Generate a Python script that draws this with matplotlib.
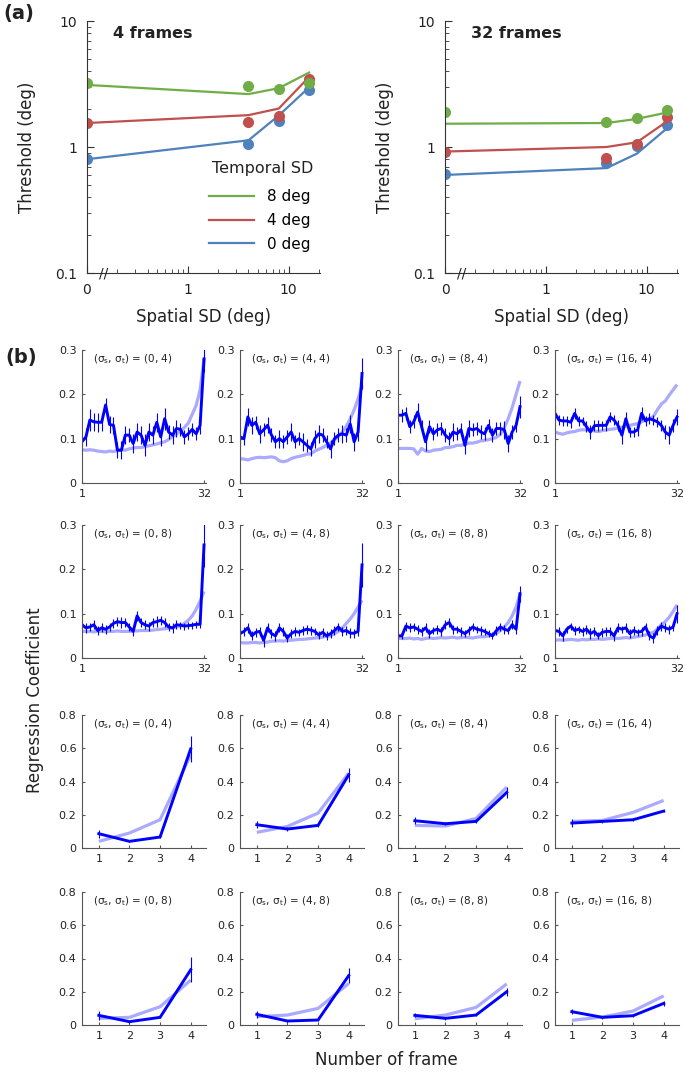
import numpy as np
import matplotlib
matplotlib.use('Agg')
import matplotlib.pyplot as plt
from matplotlib.transforms import blended_transform_factory
from matplotlib.ticker import NullFormatter

# ---------------- (a) thresholds ----------------
spatial_sd = np.array([0, 4, 8, 16])
temporal_sd = [8, 4, 0]
colors = {8: '#70ad47', 4: '#c0504d', 0: '#4f81bd'}

# 4 frames: measured points and model lines
pts4 = {8: [3.21, 3.06, 2.88, 3.20], 4: [1.55, 1.57, 1.75, 3.45], 0: [0.80, 1.06, 1.60, 2.81]}
fit4 = {8: [3.11, 2.63, 2.93, 3.90], 4: [1.55, 1.79, 2.02, 3.60], 0: [0.80, 1.13, 1.78, 2.98]}
# 32 frames
pts32 = {8: [1.88, 1.57, 1.69, 1.98], 4: [0.92, 0.82, 1.06, 1.73], 0: [0.615, 0.75, 1.01, 1.50]}
fit32 = {8: [1.53, 1.55, 1.67, 1.88], 4: [0.92, 1.00, 1.09, 1.60], 0: [0.60, 0.68, 0.885, 1.41]}

# ---------------- (b) regression coefficients ----------------
frames32 = np.arange(1, 33)
frames4 = np.array([1, 2, 3, 4])

d32_0_4 = [0.093,0.104,0.142,0.138,0.137,0.137,0.176,0.132,0.130,0.074,0.074,0.108,0.108,0.089,0.115,0.108,
           0.085,0.115,0.108,0.137,0.104,0.145,0.115,0.108,0.123,0.121,0.104,0.111,0.121,0.111,0.130,0.280]
m32_0_4 = [0.075,0.074,0.075,0.074,0.072,0.071,0.070,0.072,0.071,0.073,0.075,0.074,0.077,0.079,0.080,0.080,
           0.082,0.084,0.086,0.088,0.091,0.093,0.098,0.105,0.110,0.118,0.125,0.135,0.155,0.175,0.210,0.280]
e32_0_4 = [0.012,0.020,0.025,0.020,0.022,0.020,0.015,0.020,0.020,0.018,0.020,0.020,0.015,0.022,0.020,0.020,
           0.025,0.020,0.020,0.022,0.020,0.025,0.015,0.020,0.020,0.015,0.015,0.015,0.015,0.015,0.020,0.030]

d32_4_4 = [0.104,0.100,0.149,0.130,0.137,0.111,0.120,0.130,0.108,0.093,0.100,0.093,0.104,0.115,0.093,0.100,
           0.093,0.085,0.077,0.100,0.111,0.108,0.093,0.077,0.100,0.108,0.111,0.108,0.133,0.093,0.115,0.247]
m32_4_4 = [0.055,0.054,0.052,0.055,0.057,0.058,0.057,0.058,0.059,0.057,0.050,0.048,0.050,0.055,0.058,0.060,
           0.062,0.065,0.066,0.072,0.076,0.080,0.085,0.090,0.097,0.105,0.115,0.128,0.145,0.165,0.190,0.220]
e32_4_4 = [0.020,0.015,0.020,0.020,0.015,0.020,0.015,0.018,0.015,0.015,0.020,0.015,0.015,0.020,0.015,0.015,
           0.020,0.015,0.015,0.020,0.020,0.015,0.015,0.020,0.015,0.015,0.020,0.015,0.020,0.020,0.020,0.035]

d32_8_4 = [0.153,0.153,0.157,0.127,0.138,0.160,0.127,0.093,0.127,0.111,0.120,0.123,0.108,0.100,0.115,0.111,
           0.120,0.085,0.123,0.120,0.123,0.115,0.111,0.130,0.108,0.123,0.123,0.120,0.089,0.115,0.130,0.172]
m32_8_4 = [0.078,0.078,0.078,0.078,0.077,0.065,0.078,0.072,0.071,0.074,0.075,0.076,0.080,0.080,0.082,0.085,
           0.085,0.087,0.090,0.090,0.092,0.095,0.096,0.098,0.100,0.103,0.110,0.125,0.145,0.170,0.200,0.230]
e32_8_4 = [0.020,0.015,0.015,0.015,0.015,0.020,0.015,0.020,0.015,0.015,0.015,0.015,0.015,0.015,0.020,0.015,
           0.015,0.020,0.020,0.015,0.015,0.015,0.015,0.015,0.015,0.015,0.015,0.020,0.020,0.015,0.015,0.025]

d32_16_4 = [0.157,0.142,0.140,0.140,0.137,0.157,0.140,0.140,0.127,0.115,0.129,0.130,0.130,0.130,0.149,0.142,
            0.130,0.108,0.145,0.115,0.115,0.120,0.157,0.140,0.145,0.142,0.138,0.130,0.115,0.108,0.130,0.149]
m32_16_4 = [0.115,0.112,0.110,0.113,0.115,0.116,0.119,0.120,0.120,0.121,0.117,0.116,0.118,0.120,0.121,0.122,
            0.124,0.126,0.128,0.130,0.132,0.134,0.138,0.142,0.145,0.150,0.165,0.178,0.185,0.198,0.210,0.222]
e32_16_4 = [0.018,0.012,0.012,0.012,0.012,0.012,0.012,0.010,0.012,0.015,0.012,0.012,0.010,0.012,0.012,0.012,
            0.012,0.020,0.015,0.012,0.012,0.015,0.015,0.012,0.012,0.012,0.012,0.012,0.015,0.020,0.015,0.018]

d32_0_8 = [0.075,0.068,0.070,0.075,0.062,0.068,0.065,0.070,0.078,0.082,0.080,0.080,0.070,0.060,0.095,0.080,
           0.075,0.072,0.080,0.082,0.085,0.080,0.070,0.068,0.075,0.074,0.072,0.073,0.074,0.076,0.076,0.255]
m32_0_8 = [0.060,0.060,0.060,0.059,0.060,0.060,0.059,0.060,0.060,0.061,0.060,0.060,0.060,0.061,0.061,0.062,
           0.062,0.062,0.063,0.064,0.065,0.066,0.067,0.068,0.070,0.073,0.078,0.085,0.095,0.110,0.128,0.150]
e32_0_8 = [0.010,0.012,0.010,0.010,0.010,0.010,0.010,0.008,0.010,0.010,0.012,0.010,0.010,0.010,0.012,0.010,
           0.010,0.010,0.010,0.012,0.010,0.010,0.010,0.012,0.010,0.008,0.008,0.008,0.008,0.008,0.008,0.050]

d32_4_8 = [0.055,0.060,0.068,0.050,0.058,0.060,0.040,0.068,0.055,0.050,0.068,0.060,0.045,0.055,0.060,0.058,
           0.062,0.065,0.063,0.060,0.052,0.058,0.050,0.055,0.062,0.070,0.060,0.062,0.056,0.056,0.060,0.210]
m32_4_8 = [0.035,0.034,0.034,0.035,0.035,0.034,0.035,0.036,0.038,0.038,0.039,0.038,0.040,0.040,0.041,0.042,
           0.042,0.043,0.044,0.045,0.046,0.047,0.049,0.050,0.055,0.060,0.068,0.078,0.088,0.100,0.115,0.130]
e32_4_8 = [0.012,0.010,0.012,0.010,0.010,0.010,0.015,0.010,0.010,0.012,0.010,0.010,0.010,0.010,0.010,0.008,
           0.010,0.010,0.010,0.008,0.010,0.010,0.010,0.010,0.010,0.010,0.010,0.010,0.012,0.010,0.010,0.050]

d32_8_8 = [0.050,0.050,0.072,0.068,0.070,0.065,0.060,0.068,0.055,0.062,0.065,0.060,0.075,0.080,0.065,0.065,
           0.060,0.055,0.062,0.070,0.065,0.063,0.060,0.055,0.050,0.062,0.070,0.065,0.062,0.075,0.065,0.145]
m32_8_8 = [0.045,0.044,0.044,0.045,0.043,0.044,0.042,0.044,0.045,0.044,0.045,0.046,0.045,0.046,0.047,0.045,
           0.046,0.047,0.046,0.045,0.047,0.048,0.048,0.050,0.052,0.055,0.062,0.070,0.080,0.095,0.115,0.145]
e32_8_8 = [0.010,0.008,0.010,0.010,0.008,0.010,0.010,0.010,0.010,0.008,0.010,0.010,0.010,0.010,0.010,0.008,
           0.010,0.008,0.010,0.010,0.008,0.010,0.008,0.008,0.008,0.010,0.010,0.010,0.008,0.010,0.010,0.018]

d32_16_8 = [0.062,0.060,0.050,0.065,0.072,0.062,0.065,0.060,0.065,0.055,0.060,0.050,0.058,0.060,0.060,0.050,
            0.068,0.065,0.068,0.055,0.062,0.058,0.060,0.070,0.050,0.045,0.062,0.072,0.068,0.065,0.070,0.100]
m32_16_8 = [0.040,0.041,0.040,0.041,0.042,0.041,0.040,0.042,0.041,0.042,0.042,0.043,0.042,0.043,0.044,0.045,
            0.044,0.045,0.046,0.045,0.047,0.048,0.050,0.052,0.055,0.058,0.065,0.075,0.082,0.092,0.105,0.120]
e32_16_8 = [0.008,0.010,0.012,0.008,0.008,0.010,0.008,0.010,0.010,0.012,0.010,0.008,0.010,0.010,0.010,0.012,
            0.010,0.008,0.010,0.010,0.010,0.008,0.010,0.010,0.010,0.012,0.010,0.010,0.010,0.010,0.010,0.020]

d4_0_4 = [0.086, 0.040, 0.066, 0.596];  m4_0_4 = [0.040, 0.090, 0.170, 0.560];  e4_0_4 = [0.025, 0.006, 0.006, 0.080]
d4_4_4 = [0.140, 0.114, 0.136, 0.440];  m4_4_4 = [0.094, 0.130, 0.210, 0.450];  e4_4_4 = [0.020, 0.012, 0.008, 0.040]
d4_8_4 = [0.164, 0.146, 0.160, 0.334];  m4_8_4 = [0.136, 0.132, 0.178, 0.366];  e4_8_4 = [0.022, 0.010, 0.012, 0.035]
d4_16_4 = [0.150, 0.160, 0.170, 0.222]; m4_16_4 = [0.160, 0.166, 0.214, 0.286]; e4_16_4 = [0.025, 0.010, 0.008, 0.008]
d4_0_8 = [0.058, 0.020, 0.046, 0.332];  m4_0_8 = [0.040, 0.046, 0.110, 0.270];  e4_0_8 = [0.025, 0.006, 0.006, 0.075]
d4_4_8 = [0.064, 0.024, 0.030, 0.297];  m4_4_8 = [0.050, 0.060, 0.100, 0.250];  e4_4_8 = [0.020, 0.005, 0.005, 0.045]
d4_8_8 = [0.058, 0.040, 0.060, 0.200];  m4_8_8 = [0.038, 0.060, 0.106, 0.247];  e4_8_8 = [0.012, 0.008, 0.008, 0.025]
d4_16_8 = [0.080, 0.046, 0.056, 0.130]; m4_16_8 = [0.028, 0.048, 0.084, 0.175]; e4_16_8 = [0.015, 0.008, 0.010, 0.015]

panel_sigmas = [(0, 4), (4, 4), (8, 4), (16, 4), (0, 8), (4, 8), (8, 8), (16, 8)]
rows32 = [(d32_0_4, m32_0_4, e32_0_4), (d32_4_4, m32_4_4, e32_4_4), (d32_8_4, m32_8_4, e32_8_4),
          (d32_16_4, m32_16_4, e32_16_4), (d32_0_8, m32_0_8, e32_0_8), (d32_4_8, m32_4_8, e32_4_8),
          (d32_8_8, m32_8_8, e32_8_8), (d32_16_8, m32_16_8, e32_16_8)]
rows4 = [(d4_0_4, m4_0_4, e4_0_4), (d4_4_4, m4_4_4, e4_4_4), (d4_8_4, m4_8_4, e4_8_4),
         (d4_16_4, m4_16_4, e4_16_4), (d4_0_8, m4_0_8, e4_0_8), (d4_4_8, m4_4_8, e4_4_8),
         (d4_8_8, m4_8_8, e4_8_8), (d4_16_8, m4_16_8, e4_16_8)]

W, H = 685, 1072
fig = plt.figure(figsize=(W / 100, H / 100), dpi=100)
TXT = '#222222'


def box(x0, y0, x1, y1):
    return fig.add_axes([x0 / W, 1 - y1 / H, (x1 - x0) / W, (y1 - y0) / H])


def threshold_panel(ax, pts, fits, title, legend):
    xs = np.where(spatial_sd == 0, 0.1, spatial_sd)  # 0 drawn at the broken end of the log axis
    handles = {}
    for t in [0, 4, 8]:
        handles[t], = ax.plot(xs, fits[t], color=colors[t], lw=1.6, label=f'{t} deg')
        ax.plot(xs, pts[t], 'o', color=colors[t], ms=8, mec='none')
    ax.set_xscale('log')
    ax.set_yscale('log')
    ax.set_xlim(0.1, 20.5)
    ax.set_ylim(0.1, 10)
    ax.set_xticks([0.1, 1, 10])
    ax.set_xticklabels(['0', '1', '10'])
    ax.set_xticks([0.2, 0.3, 0.4, 0.5, 0.6, 0.7, 0.8, 0.9, 2, 3, 4, 5, 6, 7, 8, 9, 20], minor=True)
    ax.xaxis.set_minor_formatter(NullFormatter())
    ax.set_yticks([0.1, 1, 10])
    ax.set_yticklabels(['0.1', '1', '10'])
    ax.yaxis.set_minor_formatter(NullFormatter())
    for s in ['top', 'right']:
        ax.spines[s].set_visible(False)
    for s in ['left', 'bottom']:
        ax.spines[s].set_color('#333333')
    ax.tick_params(which='major', direction='in', length=5, labelsize=10, pad=7, colors='#333333', labelcolor=TXT)
    ax.tick_params(which='minor', direction='in', length=3, colors='#333333')
    tr = blended_transform_factory(ax.transData, ax.transAxes)
    ax.text(0.145, 0, '//', transform=tr, ha='center', va='center', fontsize=10, color=TXT)
    ax.text(0.11, 0.95, title, transform=ax.transAxes, fontsize=11.5, fontweight='bold', va='center', color=TXT)
    ax.set_xlabel('Spatial SD (deg)', fontsize=12, color=TXT, labelpad=8)
    ax.set_ylabel('Threshold (deg)', fontsize=12, color=TXT, labelpad=14)
    if legend:
        ax.legend([handles[8], handles[4], handles[0]], ['8 deg', '4 deg', '0 deg'],
                  loc='lower right', bbox_to_anchor=(1.02, 0.03), frameon=False,
                  fontsize=11, handlelength=2.9, handletextpad=0.9, labelspacing=0.57)
        ax.text(0.755, 0.415, 'Temporal SD', transform=ax.transAxes, fontsize=11.5,
                ha='center', va='center', color=TXT)


axA1 = box(87, 21, 320, 273)
threshold_panel(axA1, pts4, fit4, '4 frames', True)
axA2 = box(445, 21, 678, 273)
threshold_panel(axA2, pts32, fit32, '32 frames', False)


def coef_panel(ax, x, series, sig, yticks, ylabels, xlim, xticks):
    data, model, err = series
    ax.plot(x, model, color='#aaaaff', lw=2.3, solid_capstyle='butt')
    ax.errorbar(x, data, yerr=err, color='#0000ff', lw=2.1, elinewidth=0.8, capsize=0)
    ax.set_xlim(*xlim)
    ax.set_ylim(yticks[0], yticks[-1])
    ax.set_yticks(yticks)
    ax.set_yticklabels(ylabels)
    ax.set_xticks(xticks)
    for s in ['top', 'right']:
        ax.spines[s].set_visible(False)
    for s in ['left', 'bottom']:
        ax.spines[s].set_color('#555555')
    ax.tick_params(direction='in', length=2.5, labelsize=8, pad=4, colors='#555555', labelcolor=TXT)
    ax.text(0.09, 0.93, f'(σ$_\\mathrm{{s}}$, σ$_\\mathrm{{t}}$) = ({sig[0]}, {sig[1]})',
            transform=ax.transAxes, fontsize=7.5, va='center', color=TXT)


col_x = [82, 240, 398, 555]
row_y = [(350, 483), (525, 658), (715, 848), (892, 1025)]
for i, sig in enumerate(panel_sigmas):
    r, c = divmod(i, 4)
    y0, y1 = row_y[r]
    ax = box(col_x[c], y0, col_x[c] + 124, y1)
    coef_panel(ax, frames32, rows32[i], sig, [0, 0.1, 0.2, 0.3], ['0', '0.1', '0.2', '0.3'], (1, 32.5), [1, 32])
    y0, y1 = row_y[r + 2]
    ax = box(col_x[c], y0, col_x[c] + 124, y1)
    coef_panel(ax, frames4, rows4[i], sig, [0, 0.2, 0.4, 0.6, 0.8], ['0', '0.2', '0.4', '0.6', '0.8'],
               (0.45, 4.5), [1, 2, 3, 4])

fig.text(3 / W, 1 - 14 / H, '(a)', fontsize=14, fontweight='bold', va='center', color=TXT)
fig.text(5 / W, 1 - 358 / H, '(b)', fontsize=14, fontweight='bold', va='center', color=TXT)
fig.text(35 / W, 1 - 700 / H, 'Regression Coefficient', rotation=90, fontsize=12, ha='center', va='center', color=TXT)
fig.text(386 / W, 1 - 1060 / H, 'Number of frame', fontsize=12, ha='center', va='center', color=TXT)

fig.savefig('out.png', dpi=100)
